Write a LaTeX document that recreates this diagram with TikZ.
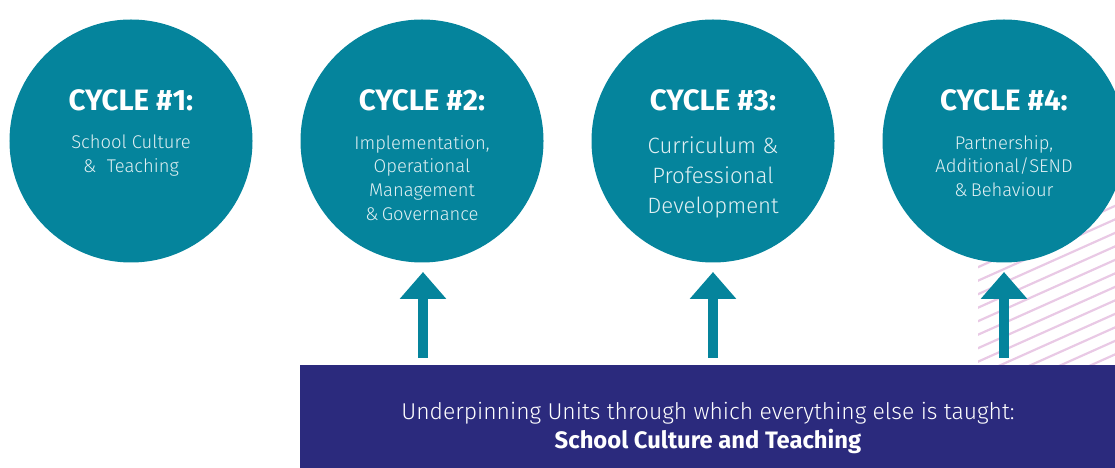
\documentclass[tikz,border=0pt]{standalone}
\usepackage{fontspec}
\setmainfont{Fira Sans}
\newfontfamily\lightf{Fira Sans Light}
\usetikzlibrary{arrows.meta}
\definecolor{tealc}{RGB}{5,132,156}
\definecolor{navyc}{RGB}{43,42,125}
\definecolor{pinkc}{RGB}{233,201,229}
\tikzset{
  cyc/.style={circle, fill=tealc, minimum size=243bp, inner sep=0pt},
  head/.style={text=white, font=\bfseries\fontsize{29.5bp}{32bp}\selectfont, inner sep=0pt, anchor=base},
  sub/.style={text=white!88!tealc, font=\lightf\fontsize{18.4bp}{23.7bp}\selectfont, align=center, inner sep=0pt, anchor=north},
  subbig/.style={text=white!88!tealc, font=\lightf\fontsize{22.2bp}{30bp}\selectfont, align=center, inner sep=0pt, anchor=north},
  uparrow/.style={draw=tealc, line width=10bp, -{Triangle[width=45bp,length=27bp]}},
  hatchline/.style={draw=pinkc, line width=2.2bp},
}
\begin{document}
\begin{tikzpicture}[x=1bp,y=-1bp]
\useasboundingbox (0,0) rectangle (1115,468);
% hatched background
\begin{scope}
  \clip (978,196) rectangle (1115,365);
  \foreach \i in {0,...,22} {
    \draw[hatchline] (965,{192+13.5*\i}) -- ++(170,-76);
  }
\end{scope}
% circles
\node[cyc] (c1) at (131,141) {};
\node[cyc] (c2) at (422,141) {};
\node[cyc] (c3) at (713,141) {};
\node[cyc] (c4) at (1004,141) {};
% headings
\node[head] (h1) at (131,111) {CYCLE \#1:};
\node[head] (h2) at (422,111) {CYCLE \#2:};
\node[head] (h3) at (713,111) {CYCLE \#3:};
\node[head] (h4) at (1004,111) {CYCLE \#4:};
% sub texts
\node[sub] (s1) at (131,135) {School Culture\\\&\ \ Teaching};
\node[sub] (s2) at (422,135) {Implementation,\\Operational\\Management\\\&\,Governance};
\node[subbig] (s3) at (713,137) {Curriculum \&\\Professional\\Development};
\node[sub] (s4) at (1004,135) {Partnership,\\Additional/SEND\\\&\,Behaviour};
% bottom bar
\node[fill=navyc, minimum width=815bp, minimum height=103bp, inner sep=0pt, anchor=north west] (bar) at (300,365) {};
\node[text=white, font=\lightf\fontsize{22.9bp}{26bp}\selectfont, inner sep=0pt, anchor=base] (b1) at (708,420) {Underpinning Units through which everything else is taught:};
\node[text=white, font=\bfseries\fontsize{23.8bp}{26bp}\selectfont, inner sep=0pt, anchor=base] (b2) at (708,448) {School Culture and Teaching};
% arrows
\coordinate (a2s) at (423,358); \coordinate (a2e) at (423,272);
\coordinate (a3s) at (713,358); \coordinate (a3e) at (713,272);
\coordinate (a4s) at (1004,358); \coordinate (a4e) at (1004,272);
\draw[uparrow] (a2s) -- (a2e);
\draw[uparrow] (a3s) -- (a3e);
\draw[uparrow] (a4s) -- (a4e);
\end{tikzpicture}
\end{document}
